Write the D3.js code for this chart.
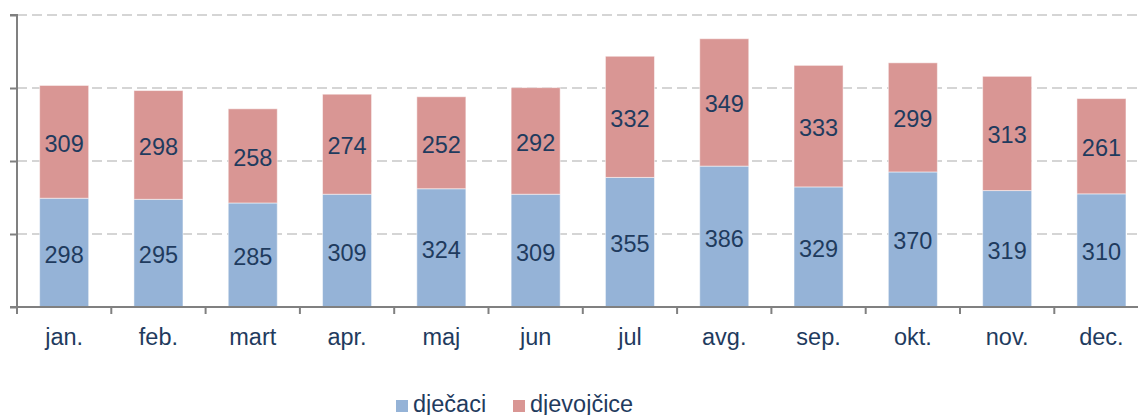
<!DOCTYPE html>
<html><head><meta charset="utf-8">
<script src="https://cdn.jsdelivr.net/npm/d3@7"></script>
<style>body{margin:0;background:#fff}svg{display:block}</style>
</head><body>
<svg id="c" width="1138" height="415"></svg>
<script>
const categories = ["jan.","feb.","mart","apr.","maj","jun","jul","avg.","sep.","okt.","nov.","dec."];
const boys  = [298,295,285,309,324,309,355,386,329,370,319,310];
const girls = [309,298,258,274,252,292,332,349,333,299,313,261];
const seriesNames = ["dječaci","djevojčice"];
const yTicks = [0,200,400,600,800];

const colors = ["#95B3D7","#D99694"];
const textColor = "#1F3B5E";
const font = "'Liberation Sans', Arial, sans-serif";
const fs = 23.5;

const svg = d3.select("#c");
const x0 = 17, x1 = 1148.6, yTop = 15, yBot = 307;
const x = d3.scaleBand().domain(categories).range([x0, x1]).paddingInner(0.48).paddingOuter(0.24);
const y = d3.scaleLinear().domain([0,800]).range([yBot, yTop]);

// gridlines
svg.append("g").selectAll("line").data(yTicks.filter(t=>t>0)).join("line")
  .attr("x1", x0).attr("x2", 1138).attr("y1", d=>y(d)).attr("y2", d=>y(d))
  .attr("stroke","#C8C8C8").attr("stroke-width",1.5).attr("stroke-dasharray","10,5");

const data = categories.map((c,i)=>({c, v:[boys[i], girls[i]]}));
const stack = d3.stack().keys([0,1]).value((d,k)=>d.v[k])(data);

stack.forEach((layer, k) => {
  const g = svg.append("g");
  g.selectAll("rect").data(layer).join("rect")
    .attr("x", d=>x(d.data.c)).attr("width", x.bandwidth())
    .attr("y", d=>y(d[1])).attr("height", d=>y(d[0])-y(d[1]))
    .attr("fill", colors[k]).attr("stroke","rgba(255,255,255,0.5)").attr("stroke-width",1);
  g.selectAll("text").data(layer).join("text")
    .attr("x", d=>x(d.data.c)+x.bandwidth()/2)
    .attr("y", d=>(y(d[0])+y(d[1]))/2 + 10)
    .attr("text-anchor","middle").attr("font-family",font).attr("font-size",fs)
    .attr("fill",textColor).text(d=>d.data.v[k]);
});

// y axis
const yAxis = d3.axisLeft(y).tickValues(yTicks).tickSize(7).tickFormat("");
const ga = svg.append("g").attr("transform",`translate(${x0},0)`).call(yAxis);
ga.selectAll("path,line").attr("stroke","#808080").attr("stroke-width",2);
ga.select("path").attr("d",`M-7,${yTop}H0V${yBot}H-7`);

// x axis
const xb = d3.scaleLinear().domain([0,12]).range([x0,x1]);
const gx = svg.append("g");
gx.append("line").attr("x1",x0).attr("x2",1138).attr("y1",yBot).attr("y2",yBot)
  .attr("stroke","#808080").attr("stroke-width",2);
gx.selectAll("line.t").data(d3.range(13)).join("line").attr("class","t")
  .attr("x1",d=>xb(d)).attr("x2",d=>xb(d)).attr("y1",yBot).attr("y2",yBot+7)
  .attr("stroke","#808080").attr("stroke-width",2);
gx.selectAll("text").data(categories).join("text")
  .attr("x",d=>x(d)+x.bandwidth()/2).attr("y",345)
  .attr("text-anchor","middle").attr("font-family",font).attr("font-size",fs)
  .attr("fill",textColor).text(d=>d);

// legend
const lg = svg.append("g");
const lx = [396, 513];
seriesNames.forEach((n,i)=>{
  lg.append("rect").attr("x",lx[i]).attr("y",400).attr("width",12).attr("height",12).attr("fill",colors[i]);
  lg.append("text").attr("x",lx[i]+17).attr("y",411.5).attr("font-family",font).attr("font-size",fs)
    .attr("fill",textColor).text(n);
});
</script>
</body></html>
